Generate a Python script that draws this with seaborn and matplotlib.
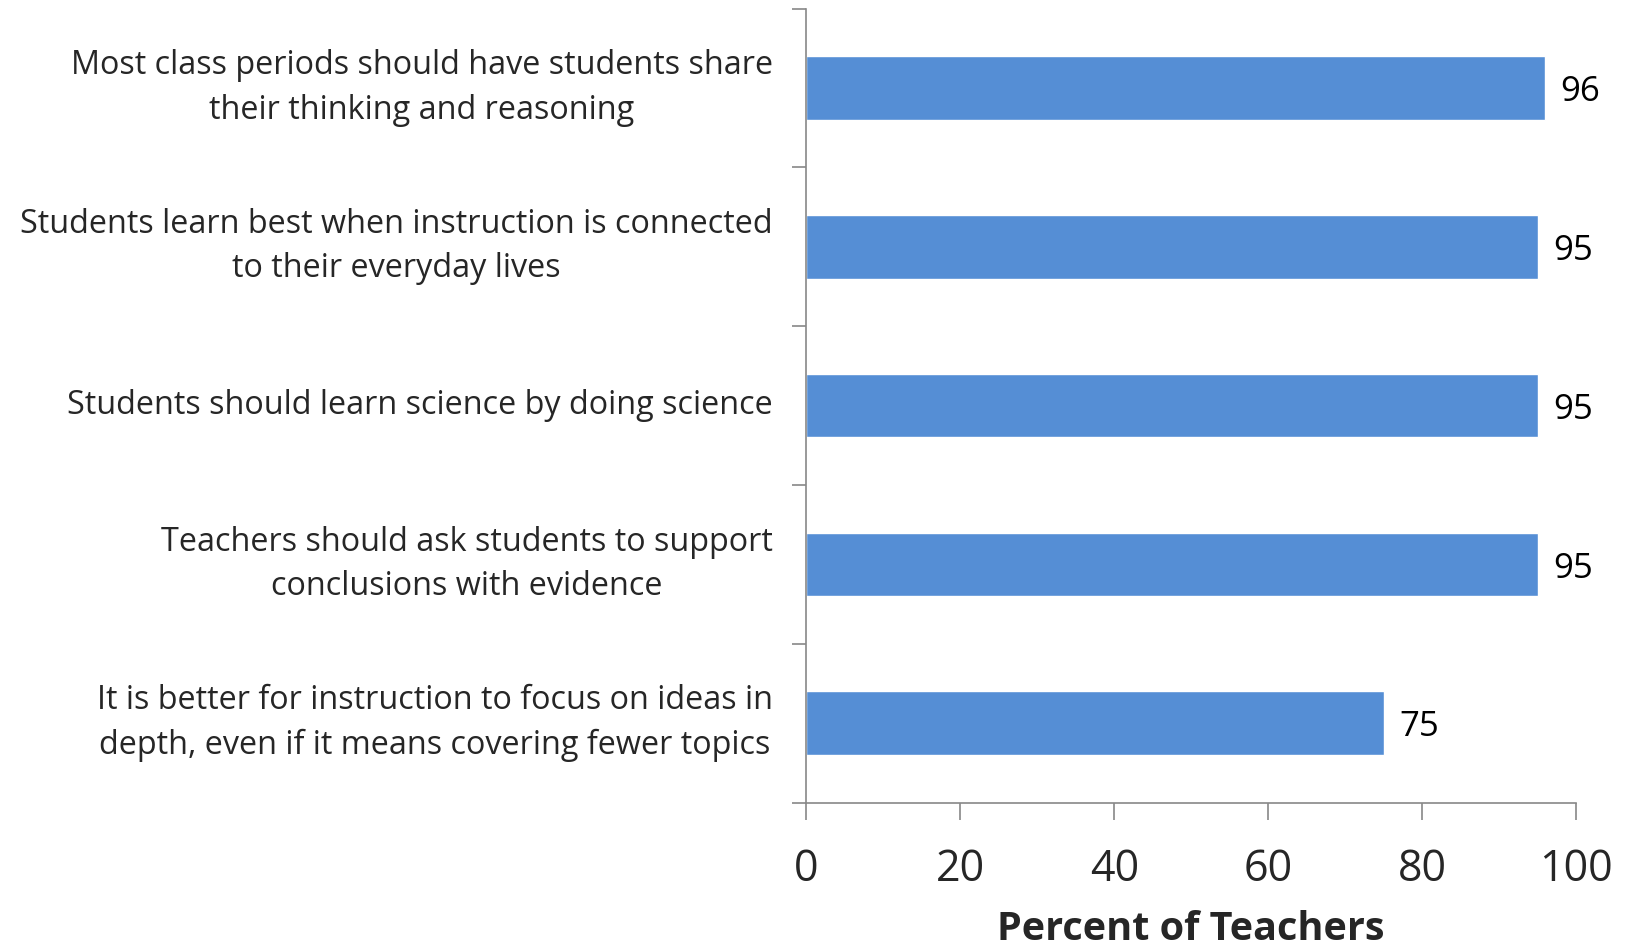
import pandas as pd
import matplotlib
matplotlib.use("Agg")
import matplotlib.pyplot as plt
import seaborn as sns
from matplotlib.ticker import FixedLocator

# data
statements = [
    "Most class periods should have students share\ntheir thinking and reasoning",
    "Students learn best when instruction is connected\nto their everyday lives",
    "Students should learn science by doing science",
    "Teachers should ask students to support\nconclusions with evidence",
    "It is better for instruction to focus on ideas in\ndepth, even if it means covering fewer topics",
]
percents = [96, 95, 95, 95, 75]

df = pd.DataFrame({"statement": statements, "percent": percents})

sns.set_style("white")
plt.rcParams["font.family"] = ["Open Sans", "DejaVu Sans"]

fig = plt.figure(figsize=(16.29, 9.51), dpi=100)
ax = fig.add_axes([0.495, 0.156, 0.9675 - 0.495, 0.991 - 0.156])

sns.barplot(data=df, x="percent", y="statement", color="#558ED5",
            saturation=1, width=0.4, ax=ax)

# value labels
for i, v in enumerate(percents):
    ax.annotate(str(v), xy=(v, i), xytext=(11, -3), textcoords="offset points",
                va="center", ha="left", fontsize=25, color="black")

ax.set_xlim(0, 100)
ax.set_ylim(4.5, -0.5)
ax.set_xticks([0, 20, 40, 60, 80, 100])
ax.tick_params(axis="x", bottom=True, labelsize=31, length=12, width=1.2,
               color="#888888", direction="out", pad=20)

# category labels without tick marks; ticks at boundaries
ax.tick_params(axis="y", which="major", left=True, length=0, pad=24, labelsize=23.3)
ax.yaxis.set_minor_locator(FixedLocator([-0.5, 0.5, 1.5, 2.5, 3.5, 4.5]))
ax.tick_params(axis="y", which="minor", left=True, length=10, width=1.2,
               color="#888888", direction="out")
for lbl in ax.get_yticklabels():
    lbl.set_multialignment("center")
    lbl.set_linespacing(1.45)
    lbl.set_va("center")

ax.set_ylabel("")
ax.set_xlabel("Percent of Teachers", fontsize=28.5, fontweight="bold", labelpad=13)

for side in ["top", "right"]:
    ax.spines[side].set_visible(False)
for side in ["left", "bottom"]:
    ax.spines[side].set_color("#888888")
    ax.spines[side].set_linewidth(1.2)

fig.savefig("out.png", dpi=100)
